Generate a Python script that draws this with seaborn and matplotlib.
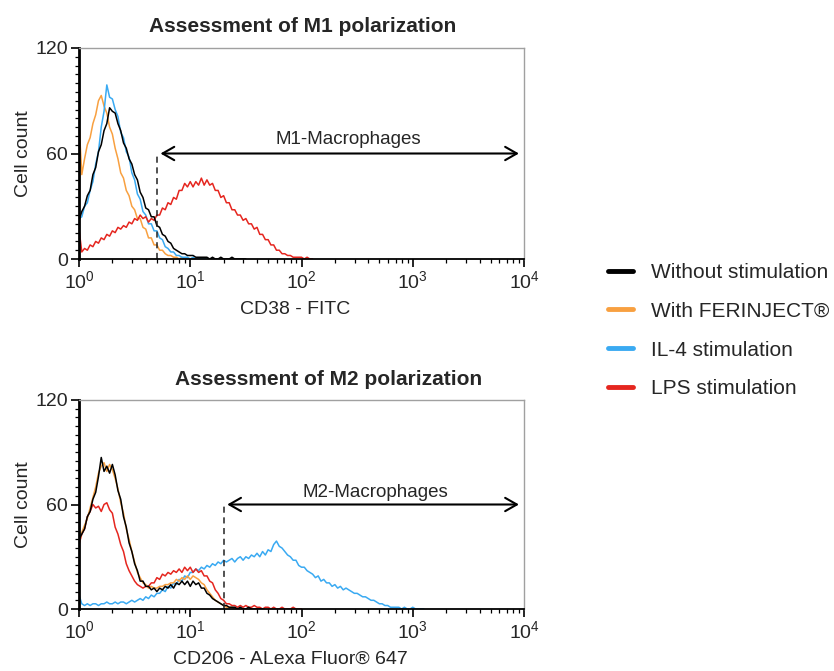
import numpy as np
import pandas as pd
import seaborn as sns
import matplotlib.pyplot as plt
from matplotlib.ticker import LogLocator, MultipleLocator, NullFormatter
from matplotlib.lines import Line2D

# channel step in decades (log10 of fluorescence)
step = 0.025

labels = ["Without stimulation", "With FERINJECT\u00ae", "IL-4 stimulation", "LPS stimulation"]
colors = {"Without stimulation": "#000000", "With FERINJECT\u00ae": "#f8a040",
          "IL-4 stimulation": "#3aaaf2", "LPS stimulation": "#e5261f"}

# M1 panel (CD38 - FITC), counts per channel from 10^0 upward
m1_black = [22, 27, 30, 36, 39, 48, 52, 61, 65, 73, 77, 86, 84, 83, 77, 73, 66, 63, 57, 54,
            48, 45, 38, 35, 29, 28, 24, 24, 19, 18, 14, 13, 10, 9, 6, 5, 4, 3, 3, 2,
            2, 2, 1, 1, 1, 1, 1, 0, 1, 0, 0, 1, 0, 0, 0, 1, 0, 0, 0, 0, 0]
m1_orange = [78, 48, 57, 65, 69, 77, 82, 90, 93, 87, 83, 75, 71, 63, 57, 49, 46, 39, 36, 30,
             28, 23, 23, 18, 17, 12, 12, 8, 8, 5, 5, 3, 2, 2, 1, 1, 0, 1, 0, 0,
             0, 0, 0, 0, 0, 0, 0, 0, 0]
m1_blue = [23, 24, 30, 32, 39, 44, 54, 61, 75, 84, 99, 92, 91, 85, 81, 72, 69, 61, 58, 49,
           45, 37, 34, 27, 25, 20, 20, 16, 16, 12, 11, 7, 6, 4, 4, 2, 2, 1, 1, 1,
           0, 1, 0, 0, 0, 0, 0, 0, 0]
m1_red = [17, 4, 6, 5, 8, 7, 10, 9, 12, 11, 14, 13, 16, 15, 18, 17, 19, 18, 21, 20,
          23, 22, 25, 23, 24, 21, 23, 22, 25, 25, 29, 28, 32, 31, 35, 34, 39, 39, 43, 41,
          44, 41, 44, 42, 46, 42, 45, 42, 43, 39, 39, 35, 36, 32, 32, 28, 28, 25, 25, 22,
          23, 20, 20, 17, 18, 14, 14, 11, 11, 8, 8, 5, 5, 3, 3, 2, 2, 1, 1, 1,
          1, 0, 1, 0, 0]

# M2 panel (CD206 - Alexa Fluor 647)
m2_black = [40, 43, 46, 53, 56, 63, 67, 76, 87, 79, 82, 78, 83, 77, 68, 63, 53, 47, 38, 33,
            26, 22, 16, 16, 13, 13, 11, 12, 10, 12, 11, 13, 12, 14, 12, 15, 14, 16, 14, 16,
            13, 16, 14, 15, 12, 12, 9, 8, 6, 5, 4, 3, 2, 2, 1, 1, 1, 0, 1, 0,
            0, 1, 0, 0, 0, 0, 0]
m2_orange = [38, 44, 48, 52, 58, 64, 70, 78, 82, 84, 79, 83, 80, 75, 69, 61, 55, 46, 40, 33,
             27, 21, 18, 15, 14, 12, 13, 12, 12, 13, 13, 14, 14, 15, 15, 17, 16, 18, 17, 19,
             17, 19, 18, 17, 15, 14, 11, 9, 7, 5, 4, 3, 2, 1, 1, 1, 0, 0, 0, 0, 0]
m2_red = [37, 43, 46, 53, 56, 60, 58, 59, 56, 60, 61, 57, 55, 47, 43, 37, 33, 26, 22, 19,
          16, 14, 13, 12, 13, 13, 15, 15, 18, 17, 20, 19, 21, 20, 22, 21, 23, 21, 24, 22,
          24, 21, 23, 21, 22, 19, 19, 16, 15, 11, 9, 6, 5, 3, 3, 2, 2, 1, 2, 1,
          2, 1, 1, 2, 1, 1, 0, 1, 1, 0, 1, 0, 0, 1, 0, 0, 0, 1, 0, 0, 0]
m2_blue = [8, 3, 2, 3, 2, 3, 3, 2, 3, 3, 4, 3, 3, 4, 3, 4, 4, 3, 4, 5, 4,
           5, 6, 5, 7, 6, 8, 7, 9, 9, 11, 10, 13, 12, 15, 14, 17, 16, 19, 18, 21,
           21, 23, 22, 24, 23, 25, 24, 26, 25, 27, 26, 28, 27, 28, 29, 27, 29, 30, 28, 30,
           29, 31, 30, 32, 30, 33, 31, 34, 33, 37, 39, 36, 35, 33, 31, 30, 28, 28, 25, 24,
           24, 22, 21, 20, 18, 19, 16, 17, 15, 15, 13, 14, 12, 13, 11, 12, 11, 10, 9, 9,
           8, 7, 7, 6, 5, 5, 4, 3, 3, 2, 2, 1, 1, 1, 1, 0, 1, 0, 0, 1, 0, 0, 0, 0]


def to_long(series):
    rows = []
    for name, vals in series.items():
        for i, v in enumerate(vals):
            rows.append((name, 10 ** (i * step), v))
    return pd.DataFrame(rows, columns=["condition", "intensity", "count"])


m1_df = to_long({"With FERINJECT\u00ae": m1_orange, "IL-4 stimulation": m1_blue,
                 "LPS stimulation": m1_red, "Without stimulation": m1_black})
m2_df = to_long({"IL-4 stimulation": m2_blue, "LPS stimulation": m2_red,
                 "With FERINJECT\u00ae": m2_orange, "Without stimulation": m2_black})

sns.set_theme(style="ticks")
plt.rcParams['font.family'] = ['Liberation Sans', 'DejaVu Sans']
plt.rcParams['mathtext.fontset'] = 'custom'
plt.rcParams['mathtext.rm'] = 'Liberation Sans'
plt.rcParams['mathtext.default'] = 'rm'

fig = plt.figure(figsize=(8.34, 6.71), dpi=100)
ax1 = fig.add_axes([79 / 834, 1 - 259 / 671, 445 / 834, 211 / 671])
ax2 = fig.add_axes([79 / 834, 1 - 609 / 671, 445 / 834, 209 / 671])


def style_axis(ax, xlabel, xlab_x, title, title_x):
    ax.set_xscale('log')
    ax.set_xlim(1, 1e4)
    ax.set_ylim(0, 120)
    ax.set_yticks([0, 60, 120])
    ax.yaxis.set_minor_locator(MultipleLocator(5))
    ax.xaxis.set_major_locator(LogLocator(base=10, numticks=10))
    ax.xaxis.set_minor_locator(LogLocator(base=10, subs=np.arange(2, 10), numticks=50))
    ax.xaxis.set_minor_formatter(NullFormatter())
    ax.tick_params(axis='both', which='major', direction='out', length=6, width=1.2,
                   labelsize=14, color='black', pad=2)
    ax.tick_params(axis='both', which='minor', direction='out', length=3, width=0.9,
                   color='black')
    for s in ['top', 'right']:
        ax.spines[s].set_color('#a0a0a0')
        ax.spines[s].set_linewidth(1.0)
    ax.spines['left'].set_linewidth(2.0)
    ax.spines['left'].set_color('black')
    ax.spines['bottom'].set_linewidth(1.3)
    ax.spines['bottom'].set_color('black')
    ax.set_ylabel("Cell count", fontsize=14, labelpad=2)
    ax.set_xlabel(xlabel, fontsize=14)
    ax.xaxis.set_label_coords(xlab_x, -0.2)
    ax.text(title_x, 1.1, title, transform=ax.transAxes, ha='center', va='center',
            fontsize=15, fontweight='bold')


for ax, df in [(ax1, m1_df), (ax2, m2_df)]:
    sns.lineplot(data=df, x="intensity", y="count", hue="condition", palette=colors,
                 estimator=None, sort=False, linewidth=1.1, legend=False, ax=ax)

style_axis(ax1, "CD38 - FITC", 0.485, "Assessment of M1 polarization", 0.503)
style_axis(ax2, "CD206 - ALexa Fluor\u00ae 647", 0.475, "Assessment of M2 polarization", 0.56)

# gates
arrow = dict(arrowstyle='<->,head_length=0.7,head_width=0.4', lw=1.5, color='black',
             shrinkA=0, shrinkB=0)
ax1.plot([5, 5], [0, 60], ls=(0, (4, 3)), color='#222222', lw=1.1)
ax1.annotate('', xy=(9000, 60), xytext=(5.4, 60), arrowprops=arrow)
ax1.text(262, 68, "M1-Macrophages", ha='center', va='center', fontsize=13.5)

ax2.plot([20, 20], [0, 60], ls=(0, (4, 3)), color='#222222', lw=1.1)
ax2.annotate('', xy=(9000, 60), xytext=(21.5, 60), arrowprops=arrow)
ax2.text(460, 67, "M2-Macrophages", ha='center', va='center', fontsize=13.5)

handles = [Line2D([0], [0], color=colors[l], lw=3.5) for l in labels]
fig.legend(handles, labels, loc='upper left', bbox_to_anchor=(608 / 834, 1 - 263 / 671),
           frameon=False, fontsize=15, handlelength=1.2, handletextpad=0.87,
           labelspacing=0.95, borderpad=0, borderaxespad=0)

fig.savefig("out.png", dpi=100)
